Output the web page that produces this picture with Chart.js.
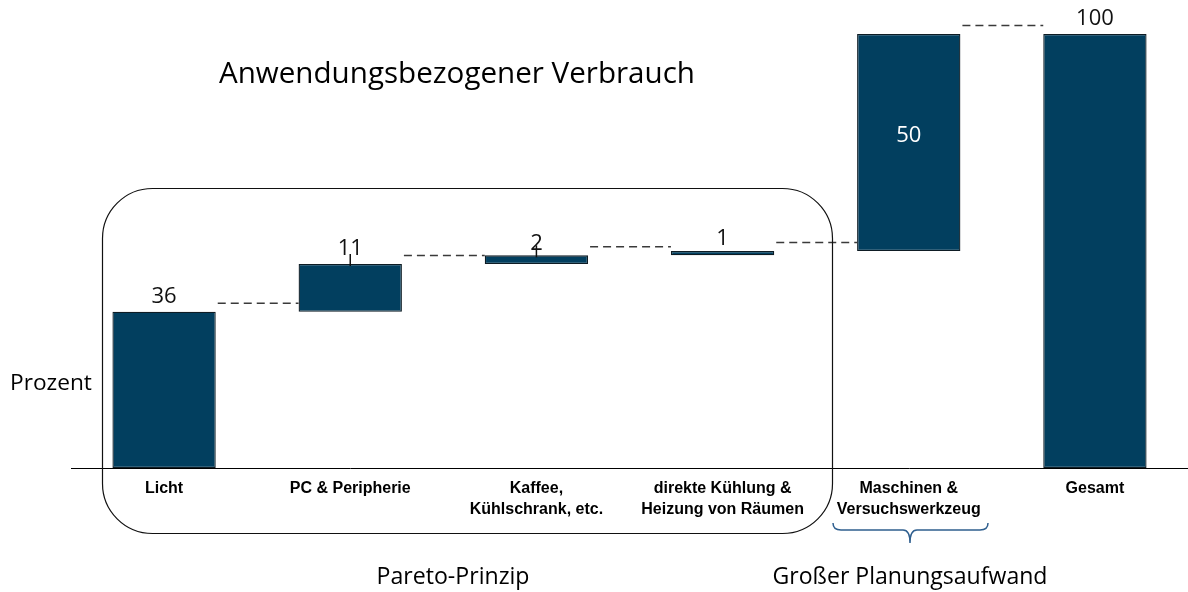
<!DOCTYPE html>
<html>
<head>
<meta charset="utf-8">
<script src="https://cdn.jsdelivr.net/npm/chart.js@4.4.1/dist/chart.umd.min.js"></script>
<style>
  html, body { margin: 0; padding: 0; background: #fff; }
  #wrap { width: 1188px; height: 592px; position: relative; }
</style>
</head>
<body>
<div id="wrap"><canvas id="chart"></canvas></div>
<script>
// chart data
const categories = [
  'Licht',
  'PC & Peripherie',
  ['Kaffee,', 'Kühlschrank, etc.'],
  ['direkte Kühlung &', 'Heizung von Räumen'],
  ['Maschinen &', 'Versuchswerkzeug'],
  'Gesamt'
];
const steps = [36, 11, 2, 1, 50];
const total = 100;
const valueLabels = ['36', '11', '2', '1', '50', '100'];

// floating ranges for the waterfall
let run = 0;
const ranges = steps.map(v => {
  const r = [run, run + v];
  run += v;
  return r;
});
ranges.push([0, total]);

const BAR = '#023f5f';

// fit a text into a given width by scaling the font size
function fitFont(ctx, text, width, family, weight) {
  ctx.font = (weight || '') + ' 20px ' + family;
  const w = ctx.measureText(text).width;
  return (weight || '') + ' ' + (20 * width / w).toFixed(2) + 'px ' + family;
}

const decor = {
  id: 'decor',
  afterDatasetsDraw(chart) {
    const ctx = chart.ctx;
    const meta = chart.getDatasetMeta(0);
    const y = chart.scales.y;
    const bars = meta.data;

    ctx.save();
    // dashed connectors
    ctx.strokeStyle = '#3a3a3a';
    ctx.lineWidth = 1.5;
    ctx.setLineDash([8, 5]);
    for (let i = 0; i < bars.length - 1; i++) {
      const a = bars[i], b = bars[i + 1];
      const py = y.getPixelForValue(ranges[i][1]) - 8.5;
      ctx.beginPath();
      ctx.moveTo(a.x + a.width / 2 + 2, py);
      ctx.lineTo(b.x - b.width / 2, py);
      ctx.stroke();
    }
    ctx.setLineDash([]);

    // small marks on the 11 and 2 labels
    ctx.strokeStyle = '#111';
    ctx.lineWidth = 1.5;
    [1, 2].forEach(i => {
      const top = Math.min(bars[i].y, bars[i].base);
      ctx.beginPath();
      ctx.moveTo(bars[i].x, top - 10);
      ctx.lineTo(bars[i].x, top + 2);
      ctx.stroke();
    });

    // value labels
    ctx.font = '22px "Open Sans"';
    ctx.textAlign = 'center';
    ctx.textBaseline = 'middle';
    bars.forEach((bar, i) => {
      const top = Math.min(bar.y, bar.base);
      if (i === 4) {
        ctx.fillStyle = '#fff';
        ctx.fillText(valueLabels[i], bar.x, (bar.y + bar.base) / 2 - 7);
      } else {
        ctx.fillStyle = '#111';
        ctx.fillText(valueLabels[i], bar.x, top - (i === 2 || i === 3 ? 12 : 15));
      }
    });
    ctx.restore();
  },
  afterDraw(chart) {
    const ctx = chart.ctx;
    ctx.save();
    ctx.fillStyle = '#000';
    ctx.textBaseline = 'alphabetic';

    // title
    ctx.textAlign = 'left';
    ctx.font = fitFont(ctx, 'Anwendungsbezogener Verbrauch', 476, '"Open Sans"', '');
    ctx.fillText('Anwendungsbezogener Verbrauch', 219, 83);

    // y axis title
    ctx.font = fitFont(ctx, 'Prozent', 82, '"Open Sans"', '');
    ctx.fillText('Prozent', 10, 390);

    // bottom captions
    ctx.textAlign = 'center';
    ctx.font = fitFont(ctx, 'Pareto-Prinzip', 153, '"Open Sans"', '');
    ctx.fillText('Pareto-Prinzip', 453, 584);
    ctx.font = fitFont(ctx, 'Großer Planungsaufwand', 275, '"Open Sans"', '');
    ctx.fillText('Großer Planungsaufwand', 910, 584);

    // rounded box around the pareto group
    ctx.strokeStyle = '#111';
    ctx.lineWidth = 1.2;
    ctx.beginPath();
    ctx.roundRect(102.5, 188.5, 730, 345, 50);
    ctx.stroke();

    // brace under Maschinen
    ctx.strokeStyle = '#2f5f8f';
    ctx.lineWidth = 1.5;
    ctx.beginPath();
    ctx.moveTo(833, 523);
    ctx.quadraticCurveTo(833, 530, 841, 530);
    ctx.lineTo(903, 530);
    ctx.quadraticCurveTo(910, 530, 910, 543);
    ctx.quadraticCurveTo(910, 530, 917, 530);
    ctx.lineTo(980, 530);
    ctx.quadraticCurveTo(988, 530, 988, 523);
    ctx.stroke();
    ctx.restore();
  }
};

new Chart(document.getElementById('chart'), {
  type: 'bar',
  data: {
    labels: categories,
    datasets: [{
      data: ranges,
      backgroundColor: BAR,
      borderColor: '#0e1c24',
      borderWidth: 1.3,
      borderSkipped: false,
      barPercentage: 0.555,
      categoryPercentage: 1
    }]
  },
  options: {
    responsive: true,
    maintainAspectRatio: false,
    animation: false,
    layout: { padding: { left: 71, right: 0, top: 34, bottom: 0 } },
    plugins: {
      legend: { display: false },
      tooltip: { enabled: false }
    },
    scales: {
      x: {
        grid: { display: false, drawTicks: false },
        border: { display: true, color: '#000', width: 1 },
        ticks: {
          color: '#000',
          font: { family: '"Liberation Sans"', size: 16, weight: 'bold', lineHeight: 1.3 },
          padding: 10,
          maxRotation: 0,
          autoSkip: false
        },
        afterFit: s => { s.height = 124; }
      },
      y: {
        display: false,
        min: 0,
        max: 100
      }
    }
  },
  plugins: [decor]
});
</script>
</body>
</html>
